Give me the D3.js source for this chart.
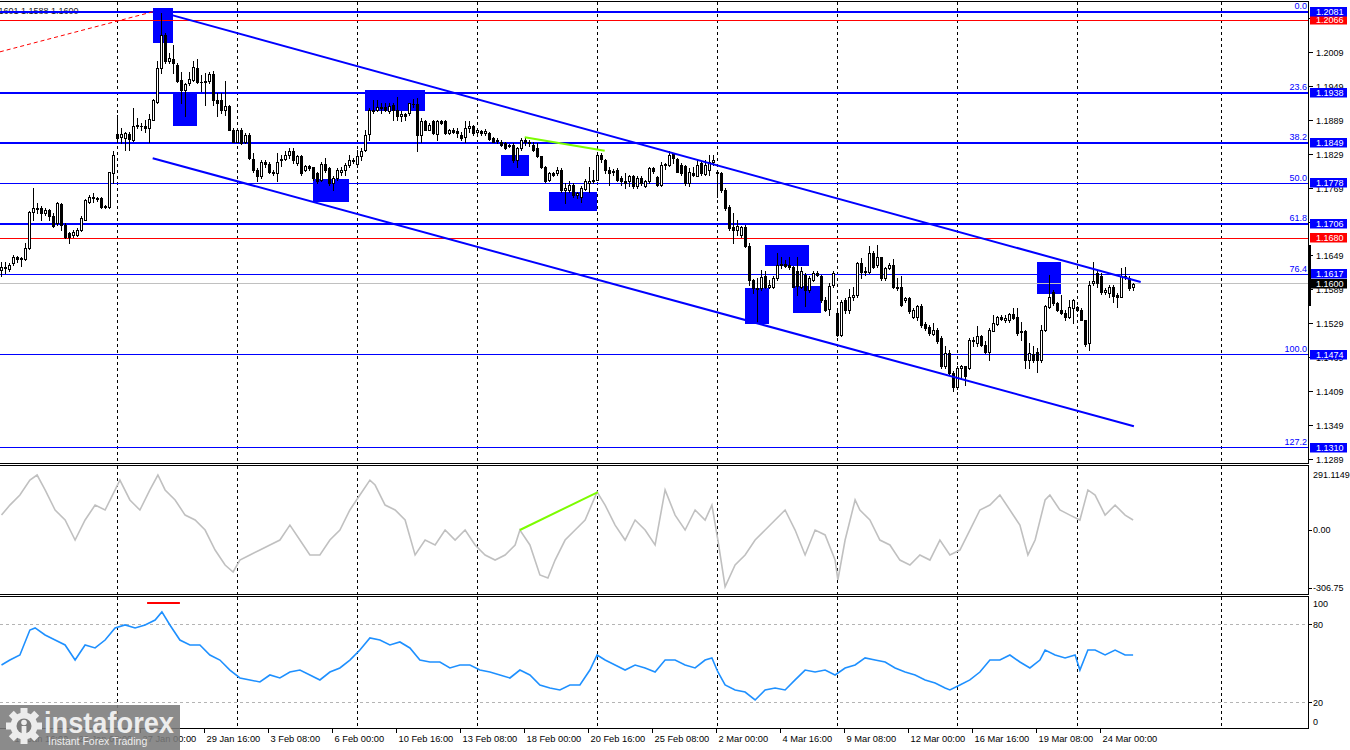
<!DOCTYPE html>
<html><head><meta charset="utf-8">
<script src="https://cdn.jsdelivr.net/npm/d3@7"></script>
<style>
html,body{margin:0;padding:0;background:#fff;overflow:hidden}
svg{display:block}
text{font-family:"Liberation Sans",Arial,sans-serif}
</style></head><body>
<svg id="c" width="1350" height="750"></svg>
<script>
// ---------- DATA ----------
// H4 candles [open, high, low, close]
const ohlc = [
[1.1625,1.1639,1.1613,1.1630],[1.1627,1.1639,1.1619,1.1630],[1.1626,1.1636,1.1622,1.1633],[1.1636,1.1651,1.1633,1.1647],
[1.1647,1.1649,1.1639,1.1643],[1.1645,1.1648,1.1632,1.1644],[1.1643,1.1672,1.1642,1.1663],[1.1663,1.1728,1.1661,1.1727],
[1.1727,1.1769,1.1713,1.1734],[1.1734,1.1742,1.1725,1.1732],[1.1734,1.1737,1.1713,1.1725],[1.1725,1.1734,1.1722,1.1730],
[1.1730,1.1732,1.1713,1.1719],[1.1720,1.1725,1.1701,1.1702],[1.1707,1.1745,1.1704,1.1742],[1.1741,1.1742,1.1695,1.1704],
[1.1704,1.1707,1.1681,1.1682],[1.1689,1.1692,1.1672,1.1682],[1.1686,1.1695,1.1683,1.1691],[1.1686,1.1698,1.1685,1.1695],
[1.1695,1.1719,1.1694,1.1716],[1.1713,1.1749,1.1712,1.1748],[1.1745,1.1757,1.1742,1.1754],[1.1754,1.1760,1.1745,1.1751],
[1.1751,1.1754,1.1747,1.1750],[1.1751,1.1753,1.1734,1.1735],[1.1735,1.1739,1.1733,1.1737],[1.1735,1.1798,1.1734,1.1797],
[1.1795,1.1834,1.1778,1.1827],[1.1864,1.1899,1.1851,1.1857],[1.1860,1.1875,1.1849,1.1865],[1.1857,1.1869,1.1837,1.1866],
[1.1864,1.1869,1.1836,1.1856],[1.1855,1.1910,1.1853,1.1879],[1.1879,1.1893,1.1875,1.1881],[1.1879,1.1884,1.1871,1.1878],
[1.1878,1.1890,1.1869,1.1876],[1.1875,1.1900,1.1851,1.1891],[1.1890,1.1926,1.1889,1.1925],[1.1922,1.1993,1.1919,1.1981],
[1.1981,1.2078,1.1972,1.2039],[1.2039,1.2043,1.1990,1.1993],[1.1993,1.2008,1.1990,1.1999],[1.1998,1.2022,1.1972,1.1990],
[1.1987,1.1990,1.1956,1.1958],[1.1961,1.1975,1.1919,1.1942],[1.1942,1.1955,1.1896,1.1954],[1.1955,1.1975,1.1952,1.1962],
[1.1961,1.1994,1.1958,1.1984],[1.1981,1.1997,1.1955,1.1956],[1.1957,1.1969,1.1940,1.1956],[1.1958,1.1972,1.1916,1.1957],
[1.1958,1.1975,1.1955,1.1971],[1.1971,1.1977,1.1916,1.1925],[1.1925,1.1937,1.1896,1.1919],[1.1925,1.1937,1.1902,1.1908],
[1.1908,1.1958,1.1899,1.1915],[1.1915,1.1916,1.1871,1.1872],[1.1872,1.1875,1.1850,1.1851],[1.1851,1.1875,1.1850,1.1872],
[1.1872,1.1875,1.1847,1.1849],[1.1851,1.1866,1.1849,1.1863],[1.1863,1.1866,1.1820,1.1822],[1.1820,1.1831,1.1798,1.1801],
[1.1801,1.1804,1.1781,1.1790],[1.1790,1.1819,1.1787,1.1816],[1.1816,1.1819,1.1807,1.1812],[1.1812,1.1816,1.1796,1.1797],
[1.1798,1.1801,1.1793,1.1796],[1.1796,1.1831,1.1781,1.1816],[1.1818,1.1828,1.1809,1.1820],[1.1820,1.1834,1.1819,1.1828],
[1.1828,1.1840,1.1822,1.1834],[1.1834,1.1840,1.1813,1.1819],[1.1813,1.1828,1.1810,1.1825],[1.1825,1.1828,1.1793,1.1796],
[1.1801,1.1810,1.1800,1.1809],[1.1809,1.1810,1.1801,1.1804],[1.1806,1.1807,1.1784,1.1787],[1.1796,1.1798,1.1778,1.1781],
[1.1784,1.1816,1.1781,1.1812],[1.1812,1.1822,1.1798,1.1801],[1.1804,1.1807,1.1775,1.1778],[1.1778,1.1790,1.1766,1.1787],
[1.1787,1.1804,1.1784,1.1801],[1.1798,1.1807,1.1793,1.1801],[1.1801,1.1813,1.1793,1.1810],[1.1810,1.1828,1.1807,1.1819],
[1.1819,1.1822,1.1813,1.1817],[1.1812,1.1837,1.1807,1.1826],[1.1825,1.1840,1.1819,1.1834],[1.1836,1.1872,1.1834,1.1863],
[1.1865,1.1910,1.1854,1.1908],[1.1908,1.1925,1.1902,1.1905],[1.1908,1.1925,1.1905,1.1913],[1.1913,1.1919,1.1902,1.1910],
[1.1912,1.1919,1.1905,1.1908],[1.1906,1.1919,1.1902,1.1915],[1.1916,1.1919,1.1890,1.1908],[1.1908,1.1930,1.1890,1.1896],
[1.1896,1.1905,1.1887,1.1900],[1.1900,1.1902,1.1890,1.1897],[1.1902,1.1920,1.1899,1.1919],[1.1918,1.1926,1.1913,1.1917],
[1.1918,1.1928,1.1834,1.1863],[1.1863,1.1893,1.1851,1.1887],[1.1887,1.1890,1.1871,1.1872],[1.1872,1.1884,1.1871,1.1881],
[1.1887,1.1889,1.1865,1.1866],[1.1865,1.1890,1.1854,1.1887],[1.1887,1.1890,1.1883,1.1885],[1.1887,1.1890,1.1865,1.1866],
[1.1867,1.1873,1.1865,1.1872],[1.1872,1.1875,1.1867,1.1869],[1.1870,1.1875,1.1860,1.1866],[1.1863,1.1869,1.1854,1.1857],
[1.1860,1.1887,1.1851,1.1875],[1.1875,1.1887,1.1869,1.1878],[1.1878,1.1881,1.1863,1.1867],[1.1869,1.1873,1.1866,1.1871],
[1.1870,1.1872,1.1863,1.1866],[1.1866,1.1873,1.1863,1.1870],[1.1867,1.1869,1.1854,1.1856],[1.1857,1.1859,1.1850,1.1851],
[1.1853,1.1857,1.1849,1.1854],[1.1851,1.1854,1.1844,1.1846],[1.1849,1.1851,1.1838,1.1840],[1.1844,1.1847,1.1842,1.1846],
[1.1846,1.1849,1.1816,1.1819],[1.1819,1.1841,1.1806,1.1840],[1.1840,1.1857,1.1837,1.1854],[1.1854,1.1857,1.1846,1.1851],
[1.1851,1.1854,1.1843,1.1849],[1.1846,1.1850,1.1834,1.1837],[1.1840,1.1849,1.1824,1.1825],[1.1825,1.1826,1.1804,1.1807],
[1.1807,1.1809,1.1779,1.1781],[1.1784,1.1797,1.1781,1.1796],[1.1796,1.1798,1.1790,1.1793],[1.1796,1.1807,1.1793,1.1801],
[1.1801,1.1804,1.1763,1.1766],[1.1766,1.1778,1.1742,1.1769],[1.1766,1.1781,1.1763,1.1775],[1.1775,1.1778,1.1754,1.1757],
[1.1757,1.1763,1.1751,1.1760],[1.1754,1.1772,1.1744,1.1769],[1.1767,1.1785,1.1765,1.1781],[1.1778,1.1807,1.1763,1.1782],
[1.1782,1.1801,1.1778,1.1784],[1.1784,1.1831,1.1783,1.1828],[1.1828,1.1831,1.1816,1.1820],[1.1819,1.1820,1.1796,1.1801],
[1.1801,1.1807,1.1775,1.1796],[1.1797,1.1803,1.1793,1.1800],[1.1801,1.1804,1.1781,1.1784],[1.1787,1.1790,1.1775,1.1781],
[1.1781,1.1796,1.1769,1.1778],[1.1781,1.1793,1.1772,1.1790],[1.1790,1.1793,1.1769,1.1772],[1.1772,1.1790,1.1769,1.1787],
[1.1787,1.1790,1.1775,1.1778],[1.1772,1.1784,1.1771,1.1781],[1.1781,1.1807,1.1778,1.1804],[1.1804,1.1807,1.1796,1.1800],
[1.1788,1.1791,1.1772,1.1775],[1.1775,1.1816,1.1772,1.1810],[1.1810,1.1814,1.1803,1.1812],[1.1810,1.1834,1.1809,1.1828],
[1.1831,1.1832,1.1813,1.1822],[1.1820,1.1822,1.1797,1.1798],[1.1810,1.1813,1.1793,1.1796],[1.1809,1.1810,1.1775,1.1778],
[1.1778,1.1804,1.1772,1.1798],[1.1796,1.1807,1.1790,1.1793],[1.1791,1.1820,1.1790,1.1810],[1.1813,1.1816,1.1793,1.1796],
[1.1794,1.1819,1.1793,1.1810],[1.1801,1.1828,1.1793,1.1816],[1.1816,1.1828,1.1810,1.1818],[1.1798,1.1801,1.1754,1.1796],
[1.1796,1.1798,1.1763,1.1766],[1.1766,1.1769,1.1730,1.1734],[1.1735,1.1739,1.1695,1.1698],[1.1701,1.1725,1.1672,1.1695],
[1.1695,1.1713,1.1686,1.1702],[1.1686,1.1702,1.1683,1.1700],[1.1701,1.1704,1.1665,1.1666],[1.1666,1.1672,1.1598,1.1607],
[1.1607,1.1608,1.1583,1.1592],[1.1592,1.1610,1.1530,1.1590],[1.1592,1.1625,1.1589,1.1612],[1.1613,1.1622,1.1592,1.1595],
[1.1595,1.1607,1.1592,1.1598],[1.1595,1.1613,1.1592,1.1610],[1.1610,1.1655,1.1607,1.1633],[1.1633,1.1648,1.1627,1.1635],
[1.1635,1.1642,1.1630,1.1632],[1.1633,1.1648,1.1626,1.1629],[1.1630,1.1632,1.1594,1.1595],[1.1622,1.1648,1.1580,1.1596],
[1.1595,1.1630,1.1592,1.1623],[1.1616,1.1619,1.1560,1.1589],[1.1589,1.1613,1.1586,1.1610],[1.1607,1.1622,1.1604,1.1619],
[1.1619,1.1622,1.1613,1.1616],[1.1613,1.1616,1.1568,1.1571],[1.1571,1.1577,1.1551,1.1554],[1.1555,1.1601,1.1545,1.1596],
[1.1598,1.1622,1.1595,1.1619],[1.1548,1.1557,1.1507,1.1510],[1.1510,1.1571,1.1508,1.1568],[1.1571,1.1574,1.1548,1.1554],
[1.1554,1.1590,1.1549,1.1577],[1.1577,1.1595,1.1571,1.1580],[1.1580,1.1639,1.1576,1.1636],[1.1636,1.1645,1.1610,1.1620],
[1.1620,1.1630,1.1616,1.1623],[1.1620,1.1666,1.1619,1.1654],[1.1654,1.1657,1.1627,1.1630],[1.1633,1.1669,1.1630,1.1647],
[1.1647,1.1648,1.1607,1.1610],[1.1610,1.1630,1.1607,1.1627],[1.1627,1.1637,1.1626,1.1633],[1.1633,1.1643,1.1592,1.1595],
[1.1595,1.1610,1.1589,1.1592],[1.1594,1.1613,1.1561,1.1563],[1.1571,1.1577,1.1568,1.1574],[1.1574,1.1577,1.1548,1.1551],
[1.1542,1.1557,1.1539,1.1554],[1.1541,1.1563,1.1536,1.1560],[1.1561,1.1564,1.1524,1.1527],[1.1529,1.1533,1.1519,1.1521],
[1.1524,1.1527,1.1510,1.1513],[1.1511,1.1530,1.1510,1.1519],[1.1519,1.1521,1.1495,1.1498],[1.1504,1.1507,1.1451,1.1454],
[1.1454,1.1489,1.1451,1.1478],[1.1478,1.1483,1.1441,1.1442],[1.1442,1.1445,1.1410,1.1418],[1.1418,1.1454,1.1414,1.1451],
[1.1451,1.1457,1.1433,1.1454],[1.1454,1.1455,1.1421,1.1436],[1.1451,1.1504,1.1449,1.1501],[1.1501,1.1506,1.1489,1.1498],
[1.1495,1.1526,1.1489,1.1507],[1.1507,1.1510,1.1489,1.1492],[1.1492,1.1498,1.1478,1.1480],[1.1480,1.1521,1.1465,1.1519],
[1.1517,1.1545,1.1516,1.1530],[1.1529,1.1543,1.1527,1.1541],[1.1541,1.1545,1.1536,1.1538],[1.1536,1.1545,1.1533,1.1539],
[1.1535,1.1548,1.1533,1.1547],[1.1547,1.1557,1.1537,1.1539],[1.1542,1.1557,1.1510,1.1513],[1.1517,1.1533,1.1501,1.1514],
[1.1516,1.1519,1.1451,1.1465],[1.1465,1.1495,1.1451,1.1477],[1.1475,1.1489,1.1462,1.1465],[1.1480,1.1486,1.1443,1.1465],
[1.1465,1.1527,1.1462,1.1519],[1.1519,1.1563,1.1516,1.1560],[1.1559,1.1616,1.1557,1.1577],[1.1585,1.1588,1.1563,1.1565],
[1.1566,1.1568,1.1551,1.1553],[1.1554,1.1580,1.1547,1.1549],[1.1549,1.1554,1.1535,1.1542],[1.1541,1.1571,1.1539,1.1559],
[1.1557,1.1573,1.1530,1.1571],[1.1559,1.1561,1.1551,1.1554],[1.1554,1.1557,1.1535,1.1536],[1.1535,1.1536,1.1490,1.1494],
[1.1496,1.1604,1.1483,1.1598],[1.1601,1.1639,1.1598,1.1604],[1.1619,1.1625,1.1595,1.1601],[1.1614,1.1619,1.1582,1.1585],
[1.1585,1.1592,1.1582,1.1588],[1.1583,1.1598,1.1577,1.1595],[1.1595,1.1598,1.1567,1.1579],[1.1580,1.1583,1.1559,1.1576],
[1.1577,1.1627,1.1576,1.1613],[1.1613,1.1630,1.1608,1.1614],[1.1610,1.1614,1.1589,1.1592],[1.1594,1.1601,1.1588,1.1600]
];

const timeLabels = ["19 Jan 16:00","22 Jan 08:00","27 Jan 00:00","29 Jan 16:00","3 Feb 08:00","6 Feb 00:00","10 Feb 16:00",
  "13 Feb 08:00","18 Feb 00:00","20 Feb 16:00","25 Feb 08:00","2 Mar 00:00","4 Mar 16:00","9 Mar 08:00","12 Mar 00:00",
  "16 Mar 16:00","19 Mar 08:00","24 Mar 00:00"];
const timeLabelBar = [4,20,36,52,68,84,100,116,132,148,164,180,196,212,228,244,260,276];
const separatorBars = [30,60,90,120,150,180,210,240,270,306];

const priceTicks = [1.2069,1.2009,1.1949,1.1889,1.1829,1.1769,1.1709,1.1649,1.1589,1.1529,1.1469,1.1409,1.1349,1.1289];
const fibNames  = ["0.0","23.6","38.2","50.0","61.8","76.4","100.0","127.2"];
const fibPrices = [1.2081,1.1938,1.1849,1.1778,1.1706,1.1617,1.1474,1.1310];
const redLevels = [1.2066,1.1680];
const bidPrice = 1.1600;
const headerText = "1.1601 1.1588 1.1600";

// trend objects: [barIndex, price]
const fibBaseline = [[0.6,1.2010],[38.9,1.2081]];
const channelUpper = [[43.6,1.2075],[285.8,1.1603]];
const channelLower = [[38.8,1.1822],[284.1,1.1348]];
const priceDivergence = [[131.8,1.1859],[151.8,1.1835]];
// zones: [fromBar, toBar, topPrice, bottomPrice]
const zones = [
  [38.8,43.8,1.2088,1.2026],[43.8,49.8,1.1938,1.1879],[78.8,87.8,1.1785,1.1745],[91.8,106.8,1.1943,1.1905],
  [125.8,132.8,1.1828,1.1790],[137.8,149.8,1.1762,1.1729],[186.8,192.8,1.1592,1.1529],[191.8,202.8,1.1668,1.1631],
  [198.8,205.8,1.1596,1.1548],[259.8,265.8,1.1638,1.1582]
];

// CCI  [barIndex, value]
const cciPoints = [
 [1,79],[3.1,132],[5.6,185],[8.1,264],[9.9,291],[11.9,212],[14.4,106],[16.9,53],[19.4,-53],[21.9,53],[24.4,132],[26.9,106],
 [29.4,212],[30.6,264],[33.1,159],[35.6,106],[38.1,212],[40.1,291],[41.9,212],[44.4,159],[46.9,79],[49.4,53],[51.9,0],
 [54.4,-106],[56.9,-185],[58.9,-222],[60.6,-159],[63.1,-132],[65.6,-106],[68.1,-79],[70.6,-53],[73.1,26],[75.6,-53],
 [78.1,-132],[80.6,-132],[83.1,-53],[85.6,0],[88.1,106],[90.6,185],[93.1,264],[94.4,238],[96.9,132],[99.4,106],[101.9,53],
 [104.4,-132],[106.9,-53],[109.4,-79],[111.9,0],[114.4,-53],[116.9,0],[119.4,-79],[121.9,-132],[124.4,-159],[126.9,-132],
 [129.4,-79],[130.6,0],[133.1,-79],[135.6,-238],[137.6,-254],[139.4,-159],[141.9,-53],[144.4,0],[146.9,53],[149.9,201],
 [151.9,132],[154.4,26],[156.9,-53],[159.4,53],[161.9,0],[164.4,-79],[166.9,212],[169.4,79],[171.9,0],[174.4,106],
 [176.9,53],[178.6,132],[180.1,-53],[181.9,-300],[184.4,-185],[186.9,-132],[189.4,-53],[191.9,0],[194.4,53],[196.9,106],
 [199.4,0],[201.9,-132],[204.4,0],[206.9,-26],[209.4,-159],[210.1,-264],[211.9,-53],[214.4,159],[215.6,106],[218.1,53],
 [220.6,-53],[223.1,-79],[225.6,-159],[228.1,-185],[230.6,-132],[233.1,-159],[235.6,-53],[238.1,-132],[240.6,-106],
 [243.1,0],[245.6,106],[248.1,132],[250.6,185],[253.1,106],[255.6,26],[257.6,-132],[259.4,-53],[261.9,159],[263.1,185],
 [265.6,106],[268.1,79],[270.6,53],[272.6,212],[274.4,185],[276.9,79],[279.4,132],[281.9,79],[283.9,53]
];
const cciTicks = [291.1149,0,-306.75];
const cciTickLabels = ["291.1149","0.00","-306.75"];
const cciDivergence = [[130.6,0],[150.1,201]];

// RSI-type oscillator [barIndex, value]
const rsiPoints = [
 [1,48.7],[3.1,52.5],[5.6,56.4],[8.1,75.6],[9.4,77.2],[11.9,71.8],[14.4,67.9],[16.9,64.1],[19.4,52.5],[21.9,64.1],
 [24.4,61.8],[26.9,67.9],[29.4,77.2],[31.9,79.5],[34.4,77.2],[36.9,79.5],[39.4,83.3],[41.1,89.5],[43.1,79.5],[45.6,67.9],
 [48.1,64.1],[50.6,64.1],[53.1,56.4],[55.6,52.5],[58.1,44.8],[60.6,38.7],[63.1,37.2],[65.6,35.6],[68.1,41],[70.6,38.7],
 [73.1,43.3],[75.6,44.8],[78.1,41],[80.6,37.2],[83.1,43.3],[85.6,46.4],[88.1,52.5],[90.6,60.2],[93.1,69.5],[95.6,67.9],
 [98.1,64.1],[100.6,66.4],[103.1,61.8],[105.6,52.5],[108.1,51],[110.6,51],[113.1,46.4],[115.6,48.7],[118.1,48.7],
 [120.6,44.8],[123.1,43.3],[125.6,41],[128.1,38.7],[130.6,44.8],[133.1,41],[135.6,33.3],[138.1,31],[140.6,29.5],
 [143.1,33.3],[145.6,33.3],[148.1,44.8],[149.9,56.4],[151.9,52.5],[154.4,48.7],[156.9,44.8],[159.4,48.7],[161.9,46.4],
 [164.4,43.3],[166.9,52.5],[169.4,52.5],[171.9,48.7],[174.4,46.4],[176.9,52.5],[178.6,54.1],[180.1,43.3],[181.9,33.3],
 [184.4,29.5],[186.9,27.9],[189.4,21.8],[191.9,29.5],[194.4,31],[196.9,29.5],[199.4,37.2],[201.9,44.8],[204.4,43.3],
 [206.9,44.8],[209.4,41],[211.9,46.4],[214.4,48.7],[216.9,54.1],[219.4,52.5],[221.9,51],[224.4,46.4],[226.9,43.3],
 [229.4,41],[231.9,37.2],[234.4,34.8],[236.9,31],[238.1,29.5],[240.6,33.3],[243.1,37.2],[245.6,43.3],[248.1,52.5],
 [250.6,52.5],[253.1,56.4],[255.6,51],[258.1,46.4],[260.6,52.5],[261.9,60.2],[264.4,56.4],[266.9,54.1],[269.4,56.4],
 [270.6,44.8],[272.6,60.2],[274.4,60.2],[276.9,56.4],[279.4,60.2],[281.9,56.4],[283.9,56.4]
];
const rsiTicks = [100,80,20,0];
const rsiLevels = [80,20];
const rsiMark = [[37.4,96.4],[45.6,96.4]];

// ---------- CHART ----------
const svg = d3.select("#c");
const W = 1309;
const BLUE = "#0000ff", RED = "#ff0000";

const x = d3.scaleLinear().domain([1, 2]).range([1.5, 5.5]);
const yP = d3.scaleLinear().domain([1.2081, 1.1310]).range([11.7, 447.7]);
const yC = d3.scaleLinear().domain([291.1149, -306.75]).range([475, 588]);
const yR = d3.scaleLinear().domain([100, 0]).range([598.3, 728.3]);

const panels = [{t:2,b:464},{t:466,b:595},{t:597,b:729}];
const defs = svg.append("defs");
panels.forEach((p,i)=>{
  defs.append("clipPath").attr("id","clip"+i).append("rect")
    .attr("x",0).attr("y",p.t).attr("width",W).attr("height",p.b-p.t);
});
const gMain = svg.append("g").attr("clip-path","url(#clip0)");
const gCCI  = svg.append("g").attr("clip-path","url(#clip1)");
const gRSI  = svg.append("g").attr("clip-path","url(#clip2)");

[gMain,gCCI,gRSI].forEach((g,i)=>{
  g.selectAll("line.sep").data(separatorBars).enter().append("line")
    .attr("x1",d=>Math.floor(x(d))+0.5).attr("x2",d=>Math.floor(x(d))+0.5)
    .attr("y1",panels[i].t).attr("y2",panels[i].b)
    .attr("stroke","#000").attr("stroke-width",1).attr("stroke-dasharray","3,3");
});

gMain.append("text").attr("x",-9).attr("y",14).attr("font-size",9).attr("fill","#1a1a1a").text(headerText);

gMain.selectAll("rect.zone").data(zones).enter().append("rect")
  .attr("x",d=>Math.round(x(d[0]))).attr("y",d=>Math.round(yP(d[2])))
  .attr("width",d=>Math.round(x(d[1]))-Math.round(x(d[0])))
  .attr("height",d=>Math.round(yP(d[3]))-Math.round(yP(d[2])))
  .attr("fill",BLUE);

const thickFib = new Set(["0.0","23.6","38.2","61.8"]);
fibPrices.forEach((p,i)=>{
  const thick = thickFib.has(fibNames[i]);
  const yy = thick ? Math.round(yP(p)) : Math.floor(yP(p))+0.5;
  gMain.append("line").attr("x1",0).attr("x2",W).attr("y1",yy).attr("y2",yy)
    .attr("stroke",BLUE).attr("stroke-width",thick?2:1);
  gMain.append("text").attr("x",W-2).attr("y",yy-3).attr("text-anchor","end")
    .attr("font-size",9).attr("fill",BLUE).text(fibNames[i]);
});
redLevels.forEach(p=>{
  const yy = Math.floor(yP(p))+0.5;
  gMain.append("line").attr("x1",0).attr("x2",W).attr("y1",yy).attr("y2",yy).attr("stroke",RED).attr("stroke-width",1);
});
{
  const yy = Math.floor(yP(bidPrice))+0.5;
  gMain.append("line").attr("x1",0).attr("x2",W).attr("y1",yy).attr("y2",yy).attr("stroke","#c0c0c0").attr("stroke-width",1);
}
gMain.append("line")
  .attr("x1",x(fibBaseline[0][0])).attr("y1",yP(fibBaseline[0][1]))
  .attr("x2",x(fibBaseline[1][0])).attr("y2",yP(fibBaseline[1][1]))
  .attr("stroke",RED).attr("stroke-width",1).attr("stroke-dasharray","4,3");

const cg = gMain.append("g").attr("shape-rendering","crispEdges");
ohlc.forEach((d,i)=>{
  const [o,h,l,c] = d;
  const cx = x(i+1);
  const yh = Math.round(yP(h)), yl = Math.round(yP(l));
  const yo = Math.round(yP(o)), yc = Math.round(yP(c));
  cg.append("line").attr("x1",cx).attr("x2",cx).attr("y1",yh).attr("y2",yl+1).attr("stroke","#000").attr("stroke-width",1);
  const top = Math.min(yo,yc), bot = Math.max(yo,yc);
  if (c >= o) {
    if (bot-top < 1) {
      cg.append("rect").attr("x",cx-1.5).attr("y",top).attr("width",3).attr("height",1).attr("fill","#000");
    } else {
      cg.append("rect").attr("x",cx-1).attr("y",top+0.5).attr("width",2).attr("height",bot-top)
        .attr("fill","#fff").attr("stroke","#000").attr("stroke-width",1);
    }
  } else {
    cg.append("rect").attr("x",cx-1.5).attr("y",top).attr("width",3).attr("height",Math.max(bot-top+1,1)).attr("fill","#000");
  }
});

[channelUpper,channelLower].forEach(ch=>{
  gMain.append("line")
    .attr("x1",x(ch[0][0])).attr("y1",yP(ch[0][1])).attr("x2",x(ch[1][0])).attr("y2",yP(ch[1][1]))
    .attr("stroke",BLUE).attr("stroke-width",2);
});
gMain.append("line")
  .attr("x1",x(priceDivergence[0][0])).attr("y1",yP(priceDivergence[0][1]))
  .attr("x2",x(priceDivergence[1][0])).attr("y2",yP(priceDivergence[1][1]))
  .attr("stroke","#7cfc00").attr("stroke-width",2);

gCCI.append("path").datum(cciPoints)
  .attr("d",d3.line().x(d=>x(d[0])).y(d=>yC(d[1])))
  .attr("fill","none").attr("stroke","#c0c0c0").attr("stroke-width",1.6);
gCCI.append("line")
  .attr("x1",x(cciDivergence[0][0])).attr("y1",yC(cciDivergence[0][1]))
  .attr("x2",x(cciDivergence[1][0])).attr("y2",yC(cciDivergence[1][1]))
  .attr("stroke","#7cfc00").attr("stroke-width",2);

rsiLevels.forEach(v=>{
  const yy = Math.floor(yR(v))+0.5;
  gRSI.append("line").attr("x1",0).attr("x2",W).attr("y1",yy).attr("y2",yy)
    .attr("stroke","#b4b4b4").attr("stroke-width",1).attr("stroke-dasharray","3,3");
});
gRSI.append("path").datum(rsiPoints)
  .attr("d",d3.line().x(d=>x(d[0])).y(d=>yR(d[1])))
  .attr("fill","none").attr("stroke","#1e90ff").attr("stroke-width",1.6);
gRSI.append("line")
  .attr("x1",x(rsiMark[0][0])).attr("y1",yR(rsiMark[0][1]))
  .attr("x2",x(rsiMark[1][0])).attr("y2",yR(rsiMark[1][1]))
  .attr("stroke",RED).attr("stroke-width",2);

const fr = svg.append("g").attr("shape-rendering","crispEdges");
panels.forEach(p=>{
  fr.append("rect").attr("x",-2).attr("y",p.t-0.5).attr("width",W+1.5).attr("height",p.b-p.t)
    .attr("fill","none").attr("stroke","#000").attr("stroke-width",1);
});

const ax = svg.append("g");
priceTicks.forEach(p=>{
  const yy = Math.floor(yP(p))+0.5;
  ax.append("line").attr("x1",W).attr("x2",W+4).attr("y1",yy).attr("y2",yy).attr("stroke","#000");
  ax.append("text").attr("x",1316).attr("y",yy).attr("dy","0.35em").attr("font-size",9).attr("fill","#000")
    .text(d3.format(".4f")(p));
});
function priceBox(p, fill){
  const yy = Math.round(yP(p));
  ax.append("rect").attr("x",1310).attr("y",yy-5).attr("width",37).attr("height",9.5).attr("fill",fill);
  ax.append("text").attr("x",1316).attr("y",yy).attr("dy","0.35em").attr("font-size",9).attr("fill","#fff")
    .text(d3.format(".4f")(p));
}
redLevels.forEach(p=>priceBox(p,RED));
fibPrices.forEach(p=>priceBox(p,BLUE));
priceBox(bidPrice,"#000");
ax.append("rect").attr("x",W-1).attr("y",Math.round(yP(1.1668))).attr("width",3)
  .attr("height",Math.round(yP(1.1561))-Math.round(yP(1.1668))).attr("fill","#000");

cciTicks.forEach((v,i)=>{
  const yy = Math.floor(yC(v))+0.5;
  if (i>0) ax.append("line").attr("x1",W).attr("x2",W+3).attr("y1",yy).attr("y2",yy).attr("stroke","#000");
  ax.append("text").attr("x",1313).attr("y",yy-1).attr("dy","0.35em").attr("font-size",9).attr("fill","#000").text(cciTickLabels[i]);
});
rsiTicks.forEach(v=>{
  const yy = Math.floor(yR(v))+0.5;
  const ly = Math.max(panels[2].t+7, Math.min(panels[2].b-7, yy));
  if (v>0 && v<100) ax.append("line").attr("x1",W).attr("x2",W+3).attr("y1",yy).attr("y2",yy).attr("stroke","#000");
  ax.append("text").attr("x",1313).attr("y",ly).attr("dy","0.35em").attr("font-size",9).attr("fill","#000").text(v);
});

timeLabelBar.forEach((b,i)=>{
  const tx = Math.floor(x(b)-1.5)+0.5;
  ax.append("line").attr("x1",tx).attr("x2",tx).attr("y1",729).attr("y2",733).attr("stroke","#000");
  ax.append("text").attr("x",tx+2).attr("y",742).attr("font-size",9.3).attr("fill","#000").text(timeLabels[i]);
});

const lg = svg.append("g");
lg.append("rect").attr("x",0).attr("y",705).attr("width",180).attr("height",45).attr("fill","#7b7b7b").attr("opacity",0.88);
const gear = lg.append("g").attr("transform","translate(24,726)").attr("fill","#ececec");
d3.range(8).forEach(k=>{
  gear.append("rect").attr("x",-3.5).attr("y",-18).attr("width",7).attr("height",9)
    .attr("transform",`rotate(${k*45})`);
});
gear.append("circle").attr("r",13.5);
gear.append("circle").attr("r",7.5).attr("fill","#7b7b7b");
gear.append("circle").attr("cx",0).attr("cy",-3.5).attr("r",2.8);
gear.append("rect").attr("x",-2.4).attr("y",0).attr("width",4.8).attr("height",15);
lg.append("text").attr("x",44).attr("y",733).attr("font-family","'Open Sans',sans-serif").attr("font-size",29)
  .attr("font-weight",600).attr("fill","#ededed").attr("textLength",130).attr("lengthAdjust","spacingAndGlyphs").text("instaforex");
lg.append("text").attr("x",48).attr("y",745).attr("font-family","'Open Sans',sans-serif").attr("font-size",10.5)
  .attr("fill","#ededed").text("Instant Forex Trading");
</script>
</body></html>
